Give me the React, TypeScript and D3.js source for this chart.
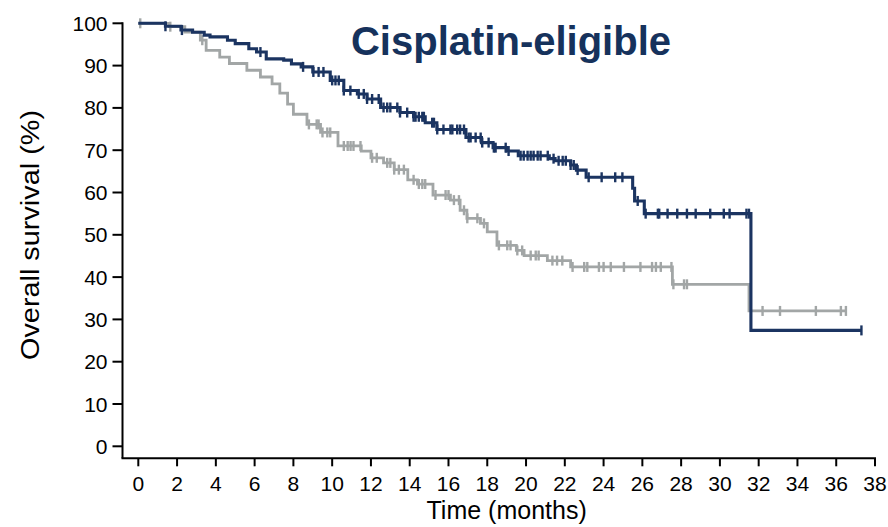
import React from 'react';
import * as d3 from 'd3';

// Kaplan-Meier steps (time in months, survival in %)
const navyTimes = [0, 1.4, 2.2, 2.8, 3.4, 3.7, 4.6, 5.0, 5.7, 6.1, 6.6, 7.5, 7.9, 8.4, 9.0, 9.9, 10.6, 11.3, 11.8, 12.5, 13.5, 14.2, 14.8, 15.4, 16.9, 17.7, 18.3, 19.0, 19.6, 21.2, 21.5, 22.3, 22.6, 23.1, 25.5, 25.6, 26.1, 31.6];
const navySurv = [100, 99.3, 98.4, 97.9, 97.2, 96.8, 96, 95.2, 94, 93.2, 91.6, 91.3, 90.4, 89.7, 88.5, 86.5, 84.1, 83.3, 82.1, 80.1, 78.9, 77.9, 76.5, 74.9, 73, 71.8, 70.6, 69.8, 68.7, 68.0, 67.5, 66.5, 65.3, 63.6, 61, 58, 55, 27.4];
const navyEnd = 37.3;
const navyCensor = [1.4, 2.25, 6.3, 8.5, 9.03, 9.3, 9.55, 10.0, 10.17, 10.34, 10.6, 10.94, 11.37, 11.63, 11.8, 12.06, 12.4, 12.65, 12.84, 13.0, 13.36, 13.5, 13.87, 14.2, 14.3, 14.47, 14.65, 14.73, 15.16, 15.25, 15.42, 15.74, 16.1, 16.2, 16.45, 16.6, 16.8, 17.04, 17.14, 17.4, 17.66, 17.74, 18.07, 18.34, 18.43, 18.95, 19.1, 19.72, 19.88, 20.08, 20.24, 20.39, 20.6, 20.75, 21.12, 21.42, 21.68, 21.89, 22.05, 22.3, 22.46, 22.66, 23.23, 23.9, 24.6, 24.97, 25.76, 26.17, 26.8, 26.87, 27.3, 27.8, 28.3, 28.75, 29.5, 30.2, 30.5, 31.37, 31.5, 37.3];

const grayTimes = [0, 1.6, 2.4, 3.2, 3.5, 4.2, 4.7, 5.6, 6.3, 6.9, 7.3, 7.7, 8.0, 8.7, 9.4, 10.3, 11.5, 12.0, 12.65, 13.2, 13.9, 14.4, 15.2, 16.1, 16.6, 16.95, 17.65, 18.0, 18.5, 19.5, 19.9, 21.1, 22.3, 27.55, 31.5];
const graySurv = [100, 99.2, 97.9, 96, 93.6, 92, 90.5, 88.9, 87.3, 85.7, 83.5, 80.9, 78.5, 76.1, 74.2, 71, 69.8, 68.2, 67, 65.4, 63, 62, 59.4, 58.2, 55.8, 53.9, 52.7, 50.7, 47.5, 46.3, 45.1, 43.9, 42.4, 38.3, 32];
const grayEnd = 36.5;
const grayCensor = [0.1, 1.65, 3.3, 8.8, 9.2, 9.3, 9.5, 9.75, 9.9, 10.6, 10.8, 10.95, 11.1, 11.46, 12.06, 12.3, 12.84, 13.0, 13.2, 13.44, 13.7, 14.2, 14.47, 14.65, 14.8, 15.33, 15.85, 16.0, 16.28, 16.54, 16.8, 16.97, 17.49, 17.83, 18.6, 19.03, 19.2, 19.55, 19.8, 20.24, 20.5, 20.65, 21.36, 21.6, 21.87, 22.4, 23.0, 23.16, 23.76, 24.0, 24.37, 25.05, 25.9, 26.5, 26.7, 26.95, 27.5, 27.6, 28.15, 28.3, 32.2, 33.1, 34.95, 36.24, 36.5];

const xTicks = d3.range(0, 39, 2);
const yTicks = d3.range(0, 101, 10);

const NAVY = '#1b3461';
const GRAY = '#a2a6a6';
const TITLE = '#16325c';

type Pt = { t: number; s: number };

function buildSteps(times: number[], surv: number[], end: number): Pt[] {
  const pts = times.map((t, i) => ({ t, s: surv[i] }));
  pts.push({ t: end, s: surv[surv.length - 1] });
  return pts;
}

// survival level at time t (right-continuous step lookup)
function survAt(times: number[], surv: number[], t: number) {
  const i = d3.bisectRight(times, t) - 1;
  return surv[Math.max(0, i)];
}

export default function App() {
  const width = 888;
  const height = 527;

  const x = d3.scaleLinear().domain([0, 38]).range([138.3, 875]);
  const y = d3.scaleLinear().domain([0, 100]).range([446.3, 23.3]);

  const axisX = 122.5;
  const axisY = 458.3;

  const line = d3.line<Pt>().x((d) => x(d.t)).y((d) => y(d.s)).curve(d3.curveStepAfter);

  const series = [
    { times: grayTimes, surv: graySurv, end: grayEnd, censor: grayCensor, color: GRAY, w: 2.8 },
    { times: navyTimes, surv: navySurv, end: navyEnd, censor: navyCensor, color: NAVY, w: 3.1 },
  ];

  const font = 'Liberation Sans, Arial, sans-serif';

  return (
    <>
      <style>{'body{margin:0;background:#fff}'}</style>
      <svg width={width} height={height} style={{ display: 'block' }} fontFamily={font}>
        <rect width={width} height={height} fill="#fff" />

        {/* Axes */}
        <line x1={axisX} y1={y(100) - 1} x2={axisX} y2={axisY} stroke="#000" strokeWidth={2} />
        <line x1={axisX - 1} y1={axisY} x2={x(38) + 1} y2={axisY} stroke="#000" strokeWidth={2} />

        {yTicks.map((v) => (
          <g key={`y${v}`}>
            <line x1={axisX - 10} x2={axisX} y1={y(v)} y2={y(v)} stroke="#000" strokeWidth={2} />
            <text x={axisX - 15} y={y(v)} dy="0.36em" textAnchor="end" fontSize={21} fill="#000">
              {v}
            </text>
          </g>
        ))}
        {xTicks.map((v) => (
          <g key={`x${v}`}>
            <line x1={x(v)} x2={x(v)} y1={axisY} y2={axisY + 8} stroke="#000" strokeWidth={2} />
            <text x={x(v)} y={491} textAnchor="middle" fontSize={21} fill="#000">
              {v}
            </text>
          </g>
        ))}

        <text x={(x(0) + x(38)) / 2} y={519} textAnchor="middle" fontSize={25} fill="#000">
          Time (months)
        </text>
        <text
          transform={`translate(39,235) rotate(-90)`}
          textAnchor="middle"
          fontSize={25}
          fill="#000"
          textLength={250}
          lengthAdjust="spacingAndGlyphs"
        >
          Overall survival (%)
        </text>

        <text x={511} y={55} textAnchor="middle" fontSize={40} fontWeight="bold" fill={TITLE}>
          Cisplatin-eligible
        </text>

        {/* Curves, navy drawn last so it sits on top */}
        {series.map((sr, k) => (
          <g key={k}>
            <path
              d={line(buildSteps(sr.times, sr.surv, sr.end)) ?? ''}
              fill="none"
              stroke={sr.color}
              strokeWidth={sr.w}
            />
            {sr.censor.map((t, i) => {
              const cy = y(survAt(sr.times, sr.surv, t));
              return (
                <line
                  key={i}
                  x1={x(t)}
                  x2={x(t)}
                  y1={cy - 5}
                  y2={cy + 5}
                  stroke={sr.color}
                  strokeWidth={2.4}
                />
              );
            })}
          </g>
        ))}
      </svg>
    </>
  );
}
